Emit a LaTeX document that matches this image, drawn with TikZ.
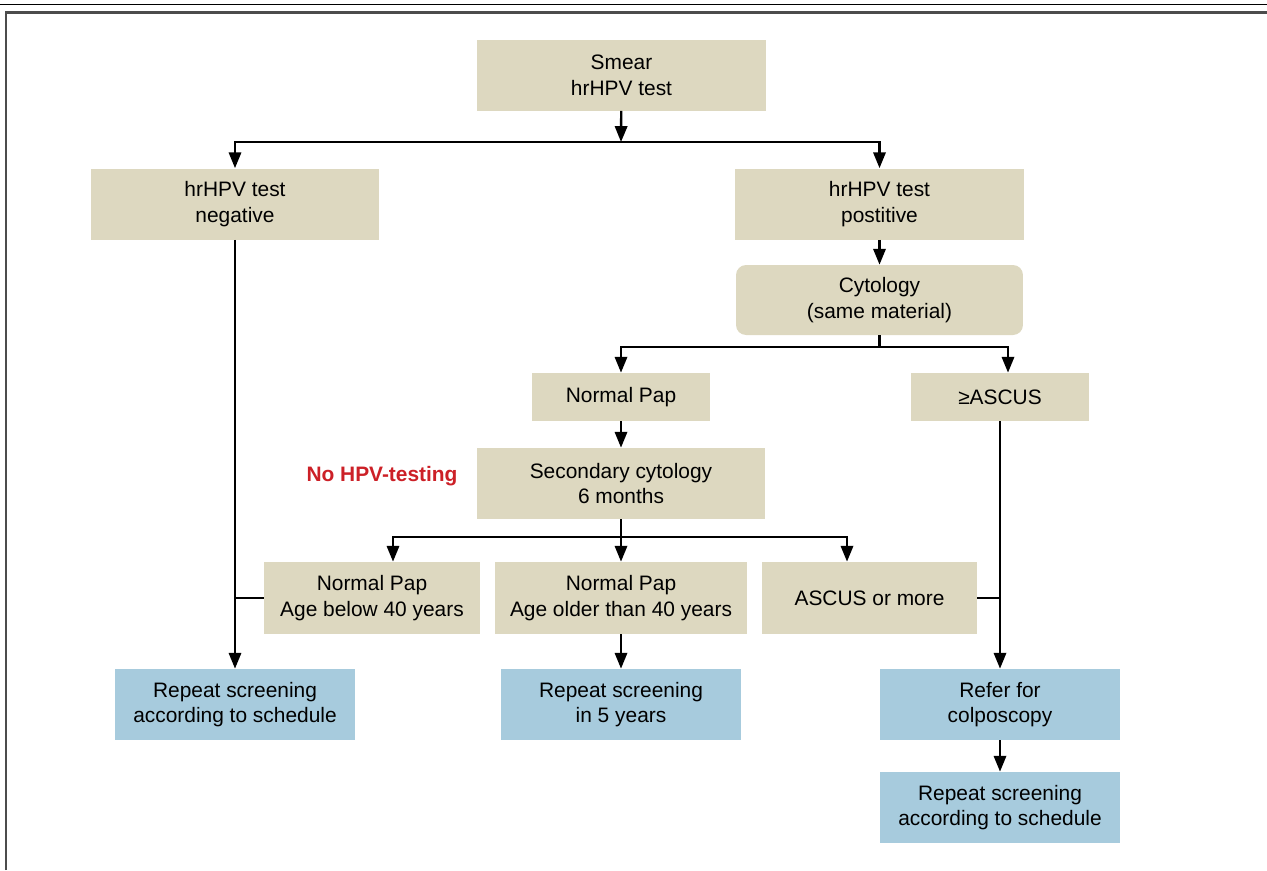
\documentclass[tikz,border=0pt]{standalone}
\usepackage{fontspec}
\setmainfont{Liberation Sans}
\usepackage{tikz}
\usetikzlibrary{arrows.meta, positioning, calc}

\definecolor{beige}{RGB}{221,216,192}
\definecolor{paleblue}{RGB}{167,203,221}
\definecolor{warnred}{RGB}{204,32,39}

\begin{document}
\begin{tikzpicture}[x=0.02cm, y=-0.02cm, >={Triangle[length=9pt, width=7pt]},
    box/.style={fill=beige, align=center, inner sep=0pt, minimum height=1.42cm,
        font=\fontsize{11.9}{14.6}\selectfont},
    bluebox/.style={box, fill=paleblue},
    link/.style={line width=1.35pt}]
\useasboundingbox (0,0) rectangle (1267,870);

% frame
\draw[line width=1.1pt] (0,4.5) -- (1267,4.5);
\draw[line width=1.3pt, black!70] (6,870) -- (6,12.5) -- (1267,12.5);

% first level
\node[box, minimum width=5.78cm] (smear) at (621.5,75) {Smear\\hrHPV test};
\node[box, minimum width=5.78cm] (neg) at (235,204) {hrHPV test\\negative};
\node[box, minimum width=5.78cm] (pos) at (879.5,204) {hrHPV test\\postitive};
\node[box, minimum width=5.74cm, minimum height=1.4cm, rounded corners=0.2cm] (cyto) at (879.5,300) {Cytology\\(same material)};

% second level
\node[box, minimum width=3.56cm, minimum height=0.96cm] (npap) at (621,397) {Normal Pap};
\node[box, minimum width=3.56cm, minimum height=0.96cm] (ascus) at (1000,397) {≥ASCUS};
\node[box, minimum width=5.78cm] (sec) at (621,483.5) {Secondary cytology\\6 months};
\node[text=warnred, font=\fontsize{11.9}{14.6}\selectfont\bfseries] (nohpv) at (382,476) {No HPV-testing};

% third level
\node[box, minimum width=4.32cm, minimum height=1.44cm] (young) at (372,598) {Normal Pap\\Age below 40 years};
\node[box, minimum width=5.04cm, minimum height=1.44cm] (old) at (621,598) {Normal Pap\\Age older than 40 years};
\node[box, minimum width=4.3cm, minimum height=1.44cm] (more) at (869.5,598) {ASCUS or more};

% outcomes
\node[bluebox, minimum width=4.8cm] (repl) at (235,704.5) {Repeat screening\\according to schedule};
\node[bluebox, minimum width=4.8cm] (rep5) at (621,704.5) {Repeat screening\\in 5 years};
\node[bluebox, minimum width=4.82cm] (colpo) at (1000,704.5) {Refer for\\colposcopy};
\node[bluebox, minimum width=4.82cm] (repr) at (1000,807.5) {Repeat screening\\according to schedule};

% splits
\coordinate (split1) at (621,142);
\coordinate (split2) at (879.5,347);
\coordinate (split3) at (621,537);

% connectors
\draw[link, ->] (smear) -- (split1);
\draw[link, <->] (neg.north) |- (split1) -| (pos.north);
\draw[link, ->] (pos) -- (cyto);
\draw[link] (cyto) -- (split2);
\draw[link, <->] (npap.north) |- (split2) -| ([xshift=0.16cm]ascus.north);
\draw[link, ->] (npap) -- (sec);
\draw[link, ->] (sec) -- (old);
\draw[link, <->] ([xshift=0.42cm]young.north) |- (split3) -| ([xshift=-0.45cm]more.north);
\draw[link, ->] (neg) -- (repl);
\draw[link] (young.west) -- (young.west -| neg.south);
\draw[link, ->] (old) -- (rep5);
\draw[link, ->] (ascus) -- (colpo);
\draw[link] (more.east) -- (more.east -| ascus.south);
\draw[link, ->] (colpo) -- (repr);
\end{tikzpicture}
\end{document}
